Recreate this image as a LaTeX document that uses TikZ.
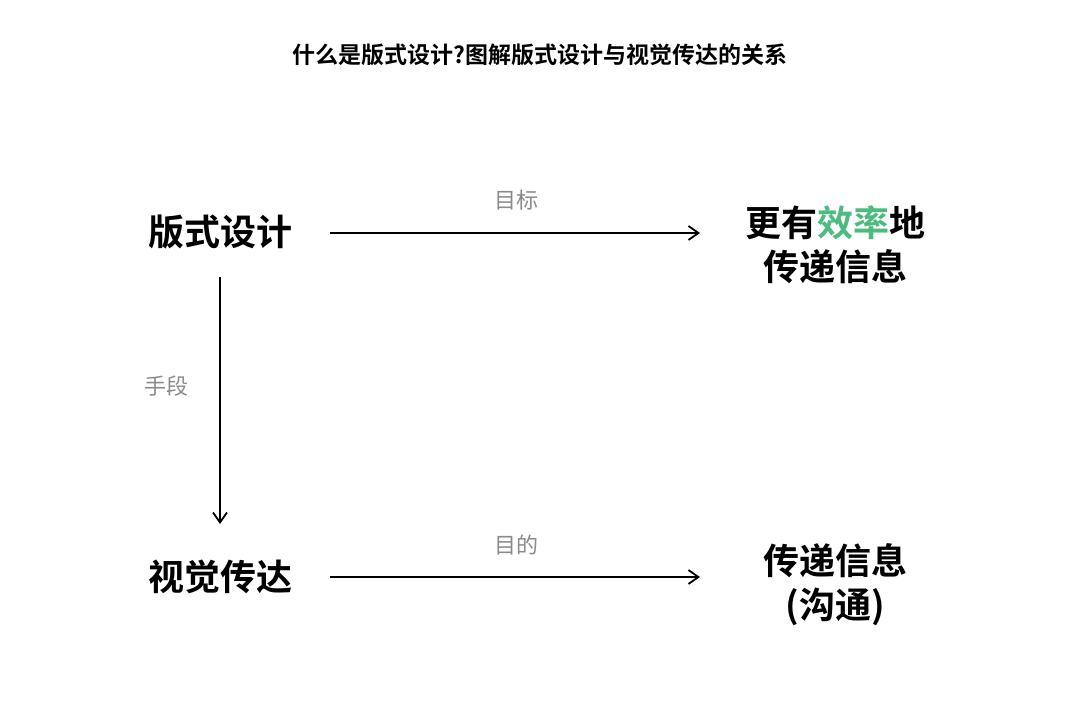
\documentclass[tikz,border=0pt]{standalone}
\usepackage{fontspec}
\setmainfont{Noto Sans CJK SC}
\newfontfamily\cjkbold{Noto Sans CJK SC Bold}
\usetikzlibrary{positioning,arrows.meta}
\definecolor{effgreen}{HTML}{4DBB80}
\definecolor{labelgray}{HTML}{8A8A8A}
\tikzset{
  bigtext/.style={font=\cjkbold\fontsize{18}{24}\selectfont, align=center},
  edgelabel/.style={font=\fontsize{11}{13}\selectfont, text=labelgray},
  link/.style={-{Straight Barb[length=5pt,width=7pt]}, line width=0.9pt}
}
\begin{document}
\begin{tikzpicture}[x=0.5pt,y=-0.5pt]
  \useasboundingbox (0,0) rectangle (1080,702);
  \node[font=\cjkbold\fontsize{11.5}{14}\selectfont] (title) at (540,55) {什么是版式设计?图解版式设计与视觉传达的关系};
  % left column
  \node[bigtext] (design) at (220,232) {版式设计};
  \node[bigtext] (visual) at (220,577) {视觉传达};
  % right column
  \node[bigtext, baseline] (goal) at (835,245) {更有\textcolor{effgreen}{效率}地\\[-2pt]传递信息};
  \node[bigtext] (purpose) at (835,585) {传递信息\\[-2pt](沟通)};
  % arrows
  \coordinate (a1) at (330,233);
  \coordinate (b1) at (700,233);
  \coordinate (a2) at (330,577);
  \coordinate (b2) at (700,577);
  \coordinate (a3) at (220,277);
  \coordinate (b3) at (220,524);
  \draw[link] (a1) -- (b1);
  \draw[link] (a2) -- (b2);
  \draw[link] (a3) -- (b3);
  \node[edgelabel] (l1) at (516,200) {目标};
  \node[edgelabel] (l2) at (516,545) {目的};
  \node[edgelabel] (l3) at (166,386) {手段};
\end{tikzpicture}
\end{document}
